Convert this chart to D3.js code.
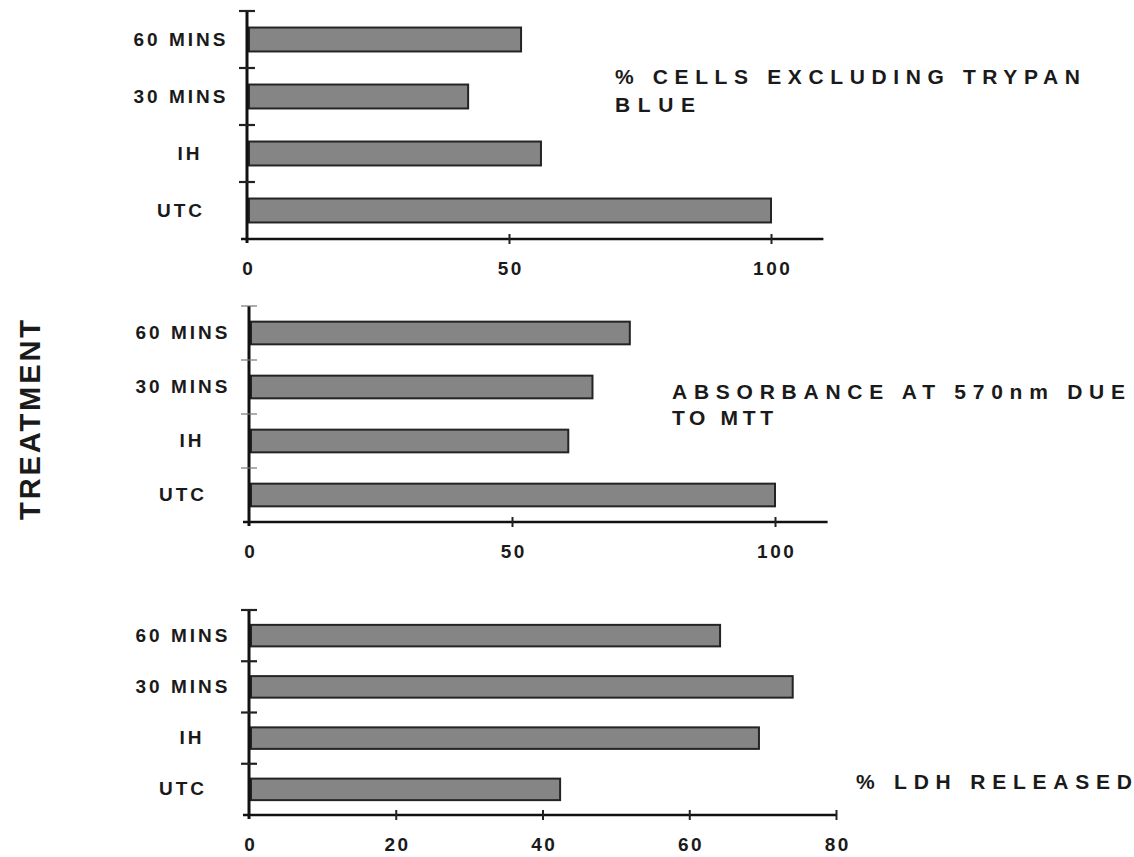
<!DOCTYPE html>
<html>
<head>
<meta charset="utf-8">
<script src="https://cdn.jsdelivr.net/npm/d3@7"></script>
<style>
  html, body { margin: 0; padding: 0; background: #ffffff; }
  svg { display: block; }
  text { font-family: "Liberation Sans", Arial, Helvetica, sans-serif; fill: #1a1a1a; }
</style>
</head>
<body>
<svg id="chart" width="1134" height="857"></svg>
<script>
// ---- data ----
const categories = ["60 MINS", "30 MINS", "IH", "UTC"];
const trypanValues = [52.3, 42.2, 56.1, 100];
const mttValues = [72.4, 65.3, 60.7, 100];
const ldhValues = [64.2, 74.1, 69.5, 42.4];
const trypanTicks = [0, 50, 100];
const mttTicks = [0, 50, 100];
const ldhTicks = [0, 20, 40, 60, 80];
const trypanTitle = ["% CELLS EXCLUDING TRYPAN", "BLUE"];
const mttTitle = ["ABSORBANCE AT 570nm DUE", "TO MTT"];
const ldhTitle = ["% LDH RELEASED"];
const yAxisTitle = "TREATMENT";

// ---- layout ----
const svg = d3.select("#chart");
const labelNudge = { "IH": 9 };

const panels = [
  { values: trypanValues, ticks: trypanTicks, domain: [0, 110], x0: 247, xRefVal: 100, xRef: 771,
    top: 11, bottom: 239, title: trypanTitle, tx: 615, ty: [84, 112], tw: [465, 80], lightTicks: false },
  { values: mttValues, ticks: mttTicks, domain: [0, 110], x0: 249, xRefVal: 100, xRef: 775,
    top: 306, bottom: 522, title: mttTitle, tx: 672, ty: [399, 425], tw: [453, 101], lightTicks: true },
  { values: ldhValues, ticks: ldhTicks, domain: [0, 80], x0: 249, xRefVal: 80, xRef: 836,
    top: 610, bottom: 815, title: ldhTitle, tx: 856, ty: [789], tw: [276], lightTicks: false }
];

panels.forEach(p => {
  const perUnit = (p.xRef - p.x0) / p.xRefVal;
  const x = d3.scaleLinear().domain(p.domain).range([p.x0, p.x0 + perUnit * p.domain[1]]);
  const y = d3.scaleBand().domain(categories).range([p.top, p.bottom])
    .paddingInner(0.58).paddingOuter(0.29);
  const step = (p.bottom - p.top) / categories.length;

  const g = svg.append("g");

  // bars
  g.selectAll("rect.bar").data(categories).join("rect")
    .attr("class", "bar")
    .attr("x", x(0) + 2)
    .attr("y", d => y(d))
    .attr("width", (d, i) => x(p.values[i]) - x(0) - 2)
    .attr("height", y.bandwidth())
    .attr("fill", "#858585")
    .attr("stroke", "#242424")
    .attr("stroke-width", 2);

  // x axis
  const xAxis = d3.axisBottom(x).tickValues(p.ticks).tickSize(10).tickSizeOuter(0).tickPadding(13);
  const xg = g.append("g").attr("transform", `translate(0,${p.bottom})`).call(xAxis);
  xg.select(".domain").attr("d", `M${x(0) - 6},0H${x(p.domain[1])}`)
    .attr("stroke", "#111").attr("stroke-width", 2.5);
  xg.selectAll(".tick line").attr("y1", -5).attr("y2", 5)
    .attr("stroke", "#222").attr("stroke-width", 2)
    .attr("opacity", d => d === 0 ? 0 : 1);
  xg.selectAll(".tick text")
    .style("font-size", "19px").style("font-weight", "bold")
    .style("letter-spacing", "2.5px").attr("fill", "#1a1a1a")
    .attr("dx", "1.2px");

  // y axis
  const yAxis = d3.axisLeft(y).tickSize(0).tickPadding(0);
  const yg = g.append("g").attr("transform", `translate(${x(0)},0)`).call(yAxis);
  yg.select(".domain").attr("d", `M0,${p.top}V${p.bottom + 4}`)
    .attr("stroke", "#111").attr("stroke-width", 3);
  yg.selectAll(".tick text")
    .attr("x", d => -66 + (labelNudge[d] || 0)).attr("text-anchor", "middle")
    .style("font-size", "19px").style("font-weight", "bold")
    .style("letter-spacing", "3px").attr("fill", "#1a1a1a");

  // y boundary ticks (top + between bands)
  const bounds = d3.range(categories.length).map(i => p.top + i * step);
  g.selectAll("line.ytick").data(bounds).join("line")
    .attr("class", "ytick")
    .attr("x1", x(0) - 8).attr("x2", x(0) + 8)
    .attr("y1", d => d).attr("y2", d => d)
    .attr("stroke", p.lightTicks ? "#777" : "#222")
    .attr("stroke-width", p.lightTicks ? 1.2 : 2.2);

  // panel title
  g.selectAll("text.ptitle").data(p.title).join("text")
    .attr("class", "ptitle")
    .attr("x", p.tx)
    .attr("y", (d, i) => p.ty[i])
    .attr("textLength", (d, i) => p.tw[i])
    .attr("lengthAdjust", "spacing")
    .style("font-size", "21px").style("font-weight", "bold")
    .text(d => d);
});

// y-axis title
svg.append("text")
  .attr("transform", "translate(40,420) rotate(-90)")
  .attr("text-anchor", "middle")
  .attr("textLength", 200)
  .attr("lengthAdjust", "spacing")
  .style("font-size", "29px").style("font-weight", "bold")
  .text(yAxisTitle);
</script>
</body>
</html>
